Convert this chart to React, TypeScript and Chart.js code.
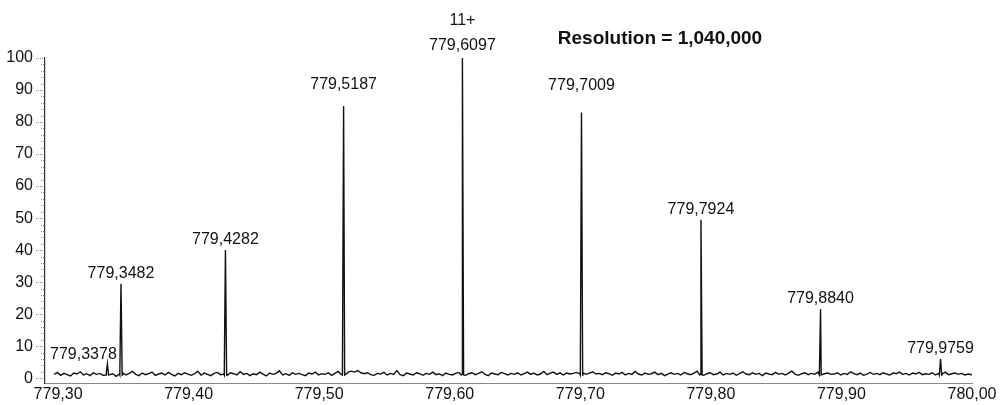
import React, { useEffect, useRef } from 'react';
import { Chart, registerables } from 'chart.js';

Chart.register(...registerables);

// ---- data ----
const peakMz = [779.3378, 779.3482, 779.4282, 779.5187, 779.6097, 779.7009, 779.7924, 779.884, 779.9759];
const peakIntensity = [4.5, 29.5, 40, 85, 100, 83, 49.5, 21.5, 6];
const peakLabels = ['779,3378', '779,3482', '779,4282', '779,5187', '779,6097', '779,7009', '779,7924', '779,8840', '779,9759'];
const chargeLabel = '11+';
const resolutionText = 'Resolution = 1,040,000';

const noiseStart = 779.297;
const noiseStep = 0.0025;
const noiseIntensity = [
  1.2, 1.8, 0.9, 1.5, 1.1, 0.7, 1.6, 1.3, 2.0, 1.0, 1.4, 0.8, 1.7, 1.2, 1.5, 0.9, 1.9, 1.1, 1.4, 0.6,
  1.3, 1.7, 1.0, 1.5, 2.1, 1.2, 0.8, 1.6, 1.1, 1.4, 1.9, 0.9, 1.3, 1.6, 1.0, 1.8, 1.2, 0.7, 1.5, 1.1,
  1.7, 1.3, 0.9, 1.4, 2.2, 1.0, 1.6, 1.2, 0.8, 1.5, 1.8, 1.1, 1.3, 0.9, 1.7, 1.4, 1.0, 2.0, 1.2, 1.5,
  0.8, 1.4, 1.1, 1.9, 1.3, 0.7, 1.6, 1.2, 1.5, 2.3, 1.0, 1.4, 0.9, 1.7, 1.2, 1.5, 1.1, 0.8, 1.6, 1.3,
  1.9, 1.0, 1.4, 1.2, 1.7, 0.9, 1.5, 2.1, 1.1, 1.3, 1.8, 2.2, 1.9, 2.4, 1.7, 1.4, 1.7, 1.1, 0.9, 1.5,
  1.3, 1.8, 1.0, 1.5, 1.2, 2.4, 1.1, 0.8, 1.6, 1.3, 1.0, 1.7, 1.4, 0.9, 1.5, 1.2, 1.9, 1.1, 1.4, 0.8,
  1.6, 1.2, 1.0, 1.5, 1.8, 1.3, 0.9, 1.4, 1.7, 1.1, 1.5, 2.0, 1.2, 0.8, 1.6, 1.3, 1.1, 1.8, 1.4, 1.0,
  1.5, 1.2, 1.7, 1.0, 1.4, 1.9, 1.2, 1.6, 1.0, 1.3, 2.1, 1.1, 1.6, 1.9, 1.2, 1.7, 1.0, 1.6, 1.3, 1.5,
  1.8, 1.4, 1.7, 1.2, 1.6, 2.0, 1.3, 1.5, 1.1, 1.7, 1.4, 0.9, 1.6, 1.3, 1.8, 1.0, 1.5, 1.2, 2.1, 1.3,
  1.0, 1.6, 1.2, 1.4, 1.9, 1.1, 1.5, 0.8, 1.3, 1.7, 1.2, 1.5, 1.0, 1.8, 1.4, 1.1, 1.6, 2.2, 1.2, 0.9,
  1.4, 1.7, 1.1, 1.3, 1.9, 1.0, 1.5, 1.2, 1.6, 0.9, 1.4, 2.0, 1.3, 1.1, 1.7, 1.2, 1.5, 0.8, 1.6, 1.3,
  1.1, 1.8, 1.2, 1.5, 1.0, 1.6, 2.2, 1.3, 0.9, 1.4, 1.7, 1.1, 1.5, 1.2, 1.9, 1.0, 1.4, 1.6, 1.2, 1.3,
  1.7, 1.0, 1.5, 1.2, 2.0, 1.4, 1.1, 1.6, 0.9, 1.3, 1.8, 1.2, 1.5, 1.1, 1.7, 1.3, 1.0, 1.6, 1.4, 1.9,
  1.2, 1.5, 1.0, 1.6, 1.3, 1.8, 1.1, 1.4, 1.2, 1.7, 1.0, 1.5, 1.3, 1.9, 1.1, 1.4, 1.6, 1.2, 1.5, 1.0,
  1.3, 1.1, 1.4, 1.2,
];
const peakBase = 1.0;

const xTicks = [779.3, 779.4, 779.5, 779.6, 779.7, 779.8, 779.9, 780.0];
const yTicks = [0, 10, 20, 30, 40, 50, 60, 70, 80, 90, 100];
const yMinorTicks = [2, 4, 6, 8, 12, 14, 16, 18, 22, 24, 26, 28, 32, 34, 36, 38, 42, 44, 46, 48, 52, 54, 56, 58, 62, 64, 66, 68, 72, 74, 76, 78, 82, 84, 86, 88, 92, 94, 96, 98];

// ---- style ----
const FONT = '"Liberation Sans", Arial, Helvetica, sans-serif';
const INK = '#111111';
const peakHalfWidth = 0.0009;
const labelDx = [-24, 0, 0, 0, 0, 0, 0, 0, 0];
const labelGap = [5, 6, 6, 17, 8, 22, 6, 6, 6];

function buildPoints() {
  const pts: { x: number; y: number }[] = [];
  noiseIntensity.forEach((v, i) => pts.push({ x: noiseStart + i * noiseStep, y: v }));
  peakMz.forEach((mz, i) => {
    pts.push({ x: mz - peakHalfWidth, y: peakBase });
    pts.push({ x: mz, y: peakIntensity[i] });
    pts.push({ x: mz + peakHalfWidth, y: peakBase });
  });
  pts.sort((a, b) => a.x - b.x);
  return pts;
}

const annotationPlugin = {
  id: 'annotations',
  afterDraw(chart: any) {
    const { ctx, scales } = chart;
    const x = scales.x;
    const y = scales.y;
    ctx.save();
    // minor y ticks
    ctx.strokeStyle = '#999';
    ctx.lineWidth = 1;
    ctx.setLineDash([1, 1]);
    const left = chart.chartArea.left;
    yMinorTicks.forEach((v) => {
      const py = Math.round(y.getPixelForValue(v)) + 0.5;
      ctx.beginPath();
      ctx.moveTo(left - 4, py);
      ctx.lineTo(left, py);
      ctx.stroke();
    });
    ctx.setLineDash([]);

    ctx.fillStyle = INK;
    ctx.font = `16px ${FONT}`;
    ctx.textAlign = 'center';
    ctx.textBaseline = 'alphabetic';
    peakMz.forEach((mz, i) => {
      const px = x.getPixelForValue(mz) + labelDx[i];
      const py = y.getPixelForValue(peakIntensity[i]) - labelGap[i];
      ctx.fillText(peakLabels[i], px, py);
    });
    const bi = peakIntensity.indexOf(Math.max(...peakIntensity));
    ctx.fillText(
      chargeLabel,
      x.getPixelForValue(peakMz[bi]),
      y.getPixelForValue(peakIntensity[bi]) - labelGap[bi] - 25
    );
    ctx.font = `bold 19px ${FONT}`;
    ctx.fillText(resolutionText, 660, 44);
    ctx.restore();
  },
};

export default function App() {
  const canvasRef = useRef<HTMLCanvasElement | null>(null);

  useEffect(() => {
    document.body.style.margin = '0';
    const canvas = canvasRef.current;
    if (!canvas) return;
    const tickFont = { family: FONT, size: 16 };
    const chart = new Chart(canvas, {
      type: 'line',
      data: {
        datasets: [
          {
            data: buildPoints(),
            borderColor: INK,
            borderWidth: 1.4,
            pointRadius: 0,
            tension: 0,
            fill: false,
          },
        ],
      },
      options: {
        animation: false,
        responsive: false,
        layout: { padding: { top: 58, right: 31, left: 0, bottom: 0 } },
        plugins: { legend: { display: false }, tooltip: { enabled: false } },
        scales: {
          x: {
            type: 'linear',
            min: 779.29,
            max: 780.0,
            afterBuildTicks: (ax: any) => {
              ax.ticks = xTicks.map((v) => ({ value: v }));
            },
            afterFit: (ax: any) => {
              ax.height = 22;
            },
            ticks: {
              font: tickFont,
              color: INK,
              padding: 2,
              maxRotation: 0,
              autoSkip: false,
              callback: (v: any) => Number(v).toFixed(2).replace('.', ','),
            },
            grid: { display: false, drawTicks: false, tickLength: 0 },
            border: { display: true, color: '#888', dash: [1, 2], width: 1 },
          },
          y: {
            type: 'linear',
            min: -1.5,
            max: 100,
            afterBuildTicks: (ax: any) => {
              ax.ticks = yTicks.map((v) => ({ value: v }));
            },
            afterFit: (ax: any) => {
              ax.width = 45;
            },
            ticks: { font: tickFont, color: INK, padding: 3 },
            grid: {
              display: true,
              drawOnChartArea: false,
              drawTicks: true,
              tickLength: 9,
              tickColor: '#888',
              tickBorderDash: [1, 1],
            },
            border: { display: true, color: '#333', width: 1.2 },
          },
        },
      },
      plugins: [annotationPlugin],
    });
    return () => chart.destroy();
  }, []);

  return (
    <div style={{ width: 1003, height: 405 }}>
      <canvas ref={canvasRef} width={1003} height={405} style={{ display: 'block' }} />
    </div>
  );
}
